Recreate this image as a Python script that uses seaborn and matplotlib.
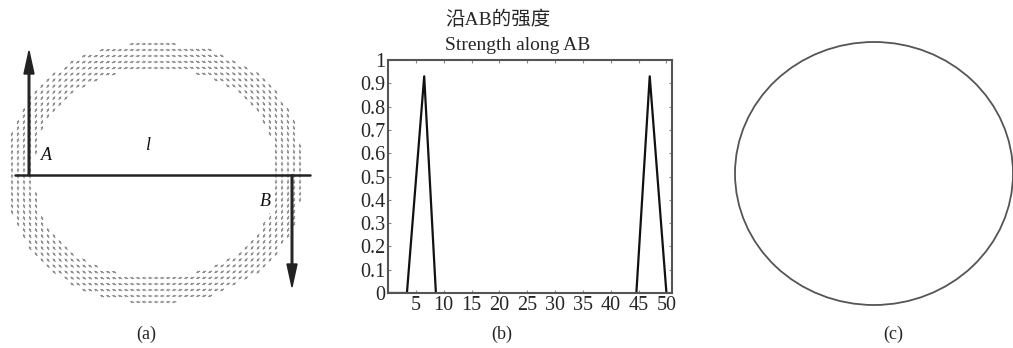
import numpy as np
import pandas as pd
import matplotlib
matplotlib.use("Agg")
import matplotlib.pyplot as plt
from matplotlib.patches import Ellipse, FancyArrow
import seaborn as sns

W, H = 1013, 348

# panel (b): strength along AB, two triangular peaks
peak_a_x = [0.0, 3.4, 6.5, 8.6]
peak_a_y = [0.0, 0.0, 0.93, 0.0]
peak_b_x = [44.6, 47.0, 50.0]
peak_b_y = [0.0, 0.93, 0.0]
x_ticks = [5, 10, 15, 20, 25, 30, 35, 40, 45, 50]
y_ticks = [0, 0.1, 0.2, 0.3, 0.4, 0.5, 0.6, 0.7, 0.8, 0.9, 1.0]
y_tick_labels = ["0", "0.1", "0.2", "0.3", "0.4", "0.5", "0.6", "0.7", "0.8", "0.9", "1"]
title_cn = "沿AB的强度"
title_en = "Strength along AB"
panel_labels = ["(a)", "(b)", "(c)"]

# panel (a): ring of small vectors, outer / inner semi-axes in pixels
ring_center = (155, 173)
ring_outer = (148, 130)
ring_inner = (120, 103)

# panel (c): reconstructed contour
contour_center = (874, 173.5)
contour_size = (278, 263)

sns.set_theme(style="white")
plt.rcParams["font.family"] = ["Liberation Serif", "Noto Sans CJK SC", "DejaVu Sans"]

fig = plt.figure(figsize=(W / 100, H / 100), dpi=100)
fig.patch.set_facecolor("white")


def px_axes(x0, y0, x1, y1):
    # axes placed by pixel box, data limits in pixel units (y down)
    ax = fig.add_axes([x0 / W, 1 - y1 / H, (x1 - x0) / W, (y1 - y0) / H])
    ax.set_xlim(x0, x1)
    ax.set_ylim(y1, y0)
    ax.set_axis_off()
    return ax


# ---- (a) vector ring ----
ax_a = px_axes(0, 20, 330, 320)
gx, gy = np.meshgrid(np.arange(0, 330, 6.0), np.arange(20, 320, 6.0))
dx = gx - ring_center[0]
dy = gy - ring_center[1]
p = 2.2
r_out = (np.abs(dx / ring_outer[0]) ** p + np.abs(dy / ring_outer[1]) ** p) ** (1 / p)
r_in = (np.abs(dx / ring_inner[0]) ** p + np.abs(dy / ring_inner[1]) ** p) ** (1 / p)
mask = (r_out <= 1.0) & (r_in >= 1.0)
u = -dy[mask]
v = dx[mask]
norm = np.hypot(u, v) + 1e-9
ax_a.quiver(gx[mask], gy[mask], u / norm, v / norm, angles="xy", scale_units="xy",
            scale=0.22, width=0.0035, headwidth=2.5, headlength=2.5, headaxislength=2.2,
            color="#666666", alpha=0.8, pivot="middle")
ax_a.plot([15, 310], [175, 175], color="#222222", lw=1.8)
ax_a.add_patch(FancyArrow(29, 175, 0, -124, width=1.6, head_width=10, head_length=23,
                          length_includes_head=True, color="#222222"))
ax_a.add_patch(FancyArrow(292, 175, 0, 112, width=1.6, head_width=10, head_length=23,
                          length_includes_head=True, color="#222222"))
for txt, x, y in [("A", 46, 156), ("l", 148, 145), ("B", 265, 202)]:
    ax_a.text(x, y, txt, fontsize=13, fontstyle="italic", ha="center", va="center",
              color="#111111",
              bbox=dict(boxstyle="square,pad=0.15", fc="white", ec="none"))

# ---- (b) strength along AB ----
ax_b = fig.add_axes([388 / W, 1 - 293 / H, 284 / W, 233 / H])
df = pd.DataFrame({
    "x": peak_a_x + peak_b_x,
    "y": peak_a_y + peak_b_y,
    "seg": ["a"] * len(peak_a_x) + ["b"] * len(peak_b_x),
})
sns.lineplot(data=df, x="x", y="y", units="seg", estimator=None, color="#111111",
             lw=1.6, ax=ax_b, legend=False)
ax_b.set_xlim(0, 51)
ax_b.set_ylim(0, 1)
ax_b.set_xticks(x_ticks)
ax_b.set_yticks(y_ticks)
ax_b.set_yticklabels(y_tick_labels)
ax_b.set_xlabel("")
ax_b.set_ylabel("")
ax_b.tick_params(direction="in", length=2, width=0.8, color="#888888", top=True, right=True,
                 labelsize=14.5, pad=2, bottom=True, left=True)
for s in ax_b.spines.values():
    s.set_visible(True)
    s.set_color("#555555")
    s.set_linewidth(1.5)
fig.text(445 / W, 1 - 20 / H, title_cn, fontsize=14, ha="left", va="center")
fig.text(445 / W, 1 - 45 / H, title_en, fontsize=14, ha="left", va="center")

# ---- (c) contour ----
ax_c = px_axes(690, 20, 1013, 320)
ax_c.add_patch(Ellipse(contour_center, contour_size[0], contour_size[1], fill=False,
                       ec="#555555", lw=1.3))

for lab, x in zip(panel_labels, [146, 502, 893]):
    fig.text(x / W, 1 - 334 / H, lab, fontsize=13, ha="center", va="center")

fig.savefig("out.png", dpi=100, facecolor="white")
